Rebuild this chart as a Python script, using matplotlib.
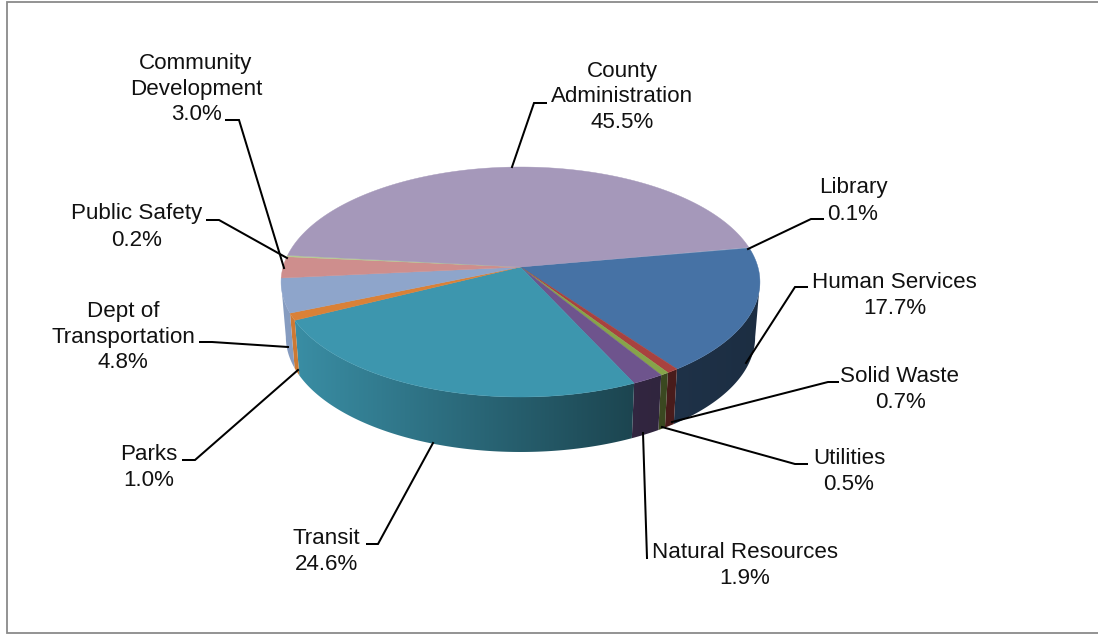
import numpy as np
import matplotlib
matplotlib.use("Agg")
import matplotlib.pyplot as plt
from matplotlib.patches import Polygon

categories = ["Library", "Human Services", "Solid Waste", "Utilities", "Natural Resources",
              "Transit", "Parks", "Dept of Transportation", "Community Development",
              "Public Safety", "County Administration"]
values = [0.1, 17.7, 0.7, 0.5, 1.9, 24.6, 1.0, 4.8, 3.0, 0.2, 45.5]
colors = ["#8FC0D8", "#4672A5", "#A8423F", "#86A44A", "#6E548D", "#3D96AE",
          "#DA8137", "#8EA5CB", "#CE8E8D", "#B5CA92", "#A598BA"]
label_lines = [["Library", "0.1%"], ["Human Services", "17.7%"], ["Solid Waste", "0.7%"],
               ["Utilities", "0.5%"], ["Natural Resources", "1.9%"], ["Transit", "24.6%"],
               ["Parks", "1.0%"], ["Dept of", "Transportation", "4.8%"],
               ["Community", "Development", "3.0%"], ["Public Safety", "0.2%"],
               ["County", "Administration", "45.5%"]]
label_x = [853, 894.5, 900, 849, 744.5, 326, 149, 123, 196, 137, 622]
label_y = [[186, 212], [281, 307], [374, 400], [457, 483], [551, 576], [537, 563],
           [453, 479], [309, 336, 361], [61, 87, 112], [212, 238], [70, 95, 121]]
leaders = [[(823, 219), (811, 219), (748, 249)],
           [(807, 287), (795, 287), (746, 363)],
           [(838, 382), (828, 382), (672, 422)],
           [(807, 464), (795, 464), (662, 427)],
           [(647, 558), (643, 433)],
           [(367, 544), (378, 544), (433, 443)],
           [(183, 460), (195, 460), (298, 370)],
           [(200, 342), (212, 342), (288, 347)],
           [(226, 120), (239, 120), (284, 268)],
           [(207, 220), (219, 220), (287, 258)],
           [(546, 103), (534, 103), (512, 167)]]

W, H = 1098, 634
CX, CY = 520.5, 267.0
A, B, K = 237.4, 113.04, 0.1304
DEPTH, SHRINK = 55.0, 0.98
START = 10.2
SIL = np.degrees(np.arcsin(K))


def project(theta_deg):
    t = np.radians(theta_deg)
    w = 1 + K * np.sin(t)
    return CX + A * np.cos(t) / w, CY - B * np.sin(t) / w


fig = plt.figure(figsize=(W / 100, H / 100), dpi=100)
ax = fig.add_axes([0, 0, 1, 1])

pct = np.array(values)
edges = START - np.concatenate([[0], np.cumsum(pct)]) * 3.6
rgb = [np.array(matplotlib.colors.to_rgb(c)) for c in colors]

# side walls between the two silhouette points, each a gradient clipped to its outline
right_end, left_end = -SIL, -180 + SIL
for i in range(len(values)):
    s0 = min(edges[i], right_end)
    s1 = max(edges[i + 1], left_end)
    if s0 <= s1:
        continue
    th = np.linspace(s0, s1, max(3, int(s0 - s1) * 2))
    xs, ys = project(th)
    bx = CX + (xs - CX) * SHRINK
    outline = np.column_stack([np.r_[xs, bx[::-1]], np.r_[ys, ys[::-1] + DEPTH]])
    poly = Polygon(outline, closed=True, facecolor="none", edgecolor="none", transform=ax.transData)
    ax.add_patch(poly)
    x_lo, x_hi = outline[:, 0].min() - 1, outline[:, 0].max() + 1
    y_lo, y_hi = outline[:, 1].min() - 1, outline[:, 1].max() + 1
    gx = np.linspace(x_lo, x_hi, 200)
    f = np.interp(gx, [290, 640, 760], [0.95, 0.45, 0.40])
    img = np.clip(f[None, :, None] * rgb[i][None, None, :], 0, 1)
    im = ax.imshow(img, extent=[x_lo, x_hi, y_hi, y_lo], aspect="auto",
                   interpolation="bilinear", zorder=2)
    im.set_clip_path(poly)

ax.set_xlim(0, W)
ax.set_ylim(H, 0)
ax.axis("off")

# top surface
for i in range(len(values)):
    th = np.linspace(edges[i], edges[i + 1], max(3, int(abs(pct[i]) * 3.6) + 2))
    xs, ys = project(th)
    pts = [(CX, CY)] + list(zip(xs, ys))
    ax.add_patch(Polygon(pts, closed=True, facecolor=colors[i], edgecolor=colors[i],
                         linewidth=0.3, zorder=3))

# leader lines
for pts in leaders:
    xs, ys = zip(*pts)
    ax.plot(xs, ys, color="black", lw=1.45, solid_joinstyle="miter", zorder=4)

# labels
for lines, x, ys in zip(label_lines, label_x, label_y):
    for line, y in zip(lines, ys):
        ax.text(x, y + 7.5, line, ha="center", va="baseline", color="#111111",
                fontsize=16.1, family="Liberation Sans", zorder=5)

# chart frame
ax.plot([W + 2, 7, 7, W + 2], [2, 2, 633, 633], color="#8A8A8A", lw=1.3, zorder=1,
        solid_joinstyle="miter")

fig.savefig("out.png", dpi=100)
